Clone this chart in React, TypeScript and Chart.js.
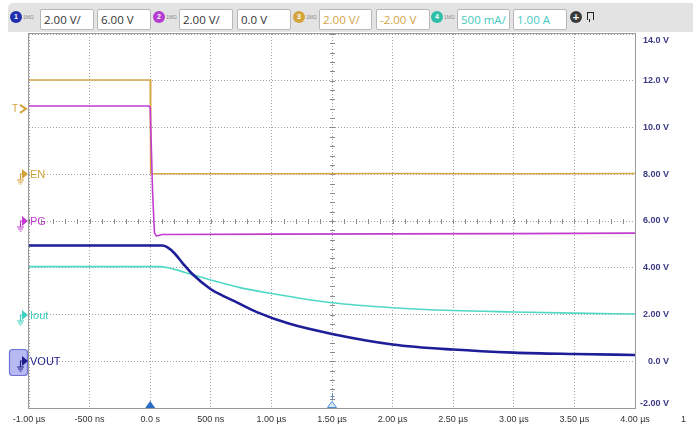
import React, { useEffect, useRef } from 'react';
import { Chart, registerables } from 'chart.js';
Chart.register(...registerables);

// ---- axis ticks ----
const xTickValues = [-1, -0.5, 0, 0.5, 1, 1.5, 2, 2.5, 3, 3.5, 4];
const xTickLabels = ['-1.00 µs', '-500 ns', '0.0 s', '500 ns', '1.00 µs', '1.50 µs', '2.00 µs', '2.50 µs', '3.00 µs', '3.50 µs', '4.00 µs'];
const yTickValues = [-2, 0, 2, 4, 6, 8, 10, 12, 14];
const yTickLabels = ['-2.00 V', '0.0 V', '2.00 V', '4.00 V', '6.00 V', '8.00 V', '10.0 V', '12.0 V', '14.0 V'];

// ---- traces (time in µs, value in screen volts) ----
const enTime = [-1, 0, 0.004, 1.0, 2.0, 3.0, 4.0];
const enVolts = [12.03, 12.03, 8.02, 8.02, 8.03, 8.02, 8.03];

const pgTime = [-1, -0.01, 0.0, 0.02, 0.035, 0.05, 0.1, 1.0, 2.0, 3.0, 4.0];
const pgVolts = [10.92, 10.92, 10.85, 7.2, 5.5, 5.36, 5.42, 5.44, 5.45, 5.46, 5.48];

const voutTime = [-1, 0.1, 0.14, 0.2, 0.27, 0.35, 0.5, 0.6, 0.69, 0.88, 1.15, 1.5, 2.0, 2.5, 3.0, 3.5, 4.0];
const voutVolts = [4.95, 4.95, 4.88, 4.62, 4.18, 3.72, 3.08, 2.8, 2.58, 2.1, 1.6, 1.17, 0.72, 0.5, 0.37, 0.31, 0.27];

const ioutTime = [-1, 0.08, 0.2, 0.35, 0.5, 0.74, 1.0, 1.15, 1.5, 2.0, 2.5, 3.0, 3.5, 4.0];
const ioutVolts = [4.05, 4.05, 3.93, 3.7, 3.48, 3.15, 2.9, 2.77, 2.5, 2.29, 2.17, 2.11, 2.06, 2.02];

// ---- markers ----
const markerLabels = ['EN', 'PG', 'Iout', 'VOUT'];
const markerLevels = [8, 6, 2, 0];
const markerColors = ['#d3a23c', '#c23ccf', '#3fd0c0', '#1c1c8a'];
const triggerLevel = 10.8;
const triggerTimes = [0, 1.5];
const extraLabel = '1';

// ---- toolbar ----
const chNumbers = ['1', '2', '3', '4'];
const chScale = ['2.00 V/', '2.00 V/', '2.00 V/', '500 mA/'];
const chOffset = ['6.00 V', '0.0 V', '-2.00 V', '1.00 A'];
const chColors = ['#2230b0', '#b43cd0', '#d4a43c', '#2fbfa8'];
const chTextColors = ['#333', '#333', '#d0a445', '#45c8c0'];

const pts = (t: number[], v: number[]) => t.map((x, i) => ({ x, y: v[i] }));

const scopePlugin = {
  id: 'scope',
  beforeDatasetsDraw(chart: any) {
    const { ctx, scales } = chart;
    const xs = scales.x, ys = scales.y;
    ctx.save();
    ctx.strokeStyle = '#8a8a8a';
    ctx.lineWidth = 1;
    const cy = Math.round(ys.getPixelForValue(6)) + 0.5;
    for (let t = -1; t <= 4.0001; t += 0.1) {
      const px = Math.round(xs.getPixelForValue(t)) + 0.5;
      ctx.beginPath(); ctx.moveTo(px, cy - 2.5); ctx.lineTo(px, cy + 2.5); ctx.stroke();
    }
    const cx = Math.round(xs.getPixelForValue(1.5)) + 0.5;
    for (let v = -2; v <= 14.0001; v += 0.4) {
      const py = Math.round(ys.getPixelForValue(v)) + 0.5;
      ctx.beginPath(); ctx.moveTo(cx - 2.5, py); ctx.lineTo(cx + 2.5, py); ctx.stroke();
    }
    ctx.restore();
  },
  afterDraw(chart: any) {
    const { ctx, chartArea: a, scales } = chart;
    const xs = scales.x, ys = scales.y;
    ctx.save();
    // border
    ctx.strokeStyle = '#9a9a9a';
    ctx.lineWidth = 1;
    ctx.strokeRect(Math.round(a.left) - 0.5, Math.round(a.top) - 0.5, Math.round(a.right - a.left) + 1, Math.round(a.bottom - a.top) + 1);

    // y labels (right)
    ctx.font = 'bold 9px "Liberation Sans"';
    ctx.fillStyle = '#3b3b86';
    ctx.textAlign = 'right';
    ctx.textBaseline = 'middle';
    yTickValues.forEach((v, i) => {
      let py = ys.getPixelForValue(v);
      py = Math.max(a.top + 7, Math.min(a.bottom - 4, py));
      ctx.fillText(yTickLabels[i], a.right + 34, py);
    });
    ctx.font = '9px "Liberation Sans"';
    ctx.fillStyle = '#333';
    ctx.textAlign = 'left';
    ctx.fillText(extraLabel, a.right + 46, a.bottom + 12);

    // trigger position triangles
    const t0 = xs.getPixelForValue(triggerTimes[0]);
    ctx.fillStyle = '#2a6cc6';
    ctx.beginPath(); ctx.moveTo(t0 - 5, a.bottom); ctx.lineTo(t0 + 5, a.bottom); ctx.lineTo(t0, a.bottom - 7); ctx.closePath(); ctx.fill();
    const t1 = xs.getPixelForValue(triggerTimes[1]);
    ctx.fillStyle = '#dbe8f6';
    ctx.strokeStyle = '#4a8ad0';
    ctx.beginPath(); ctx.moveTo(t1 - 4.5, a.bottom - 0.5); ctx.lineTo(t1 + 4.5, a.bottom - 0.5); ctx.lineTo(t1, a.bottom - 6.5); ctx.closePath(); ctx.fill(); ctx.stroke();
    ctx.strokeStyle = '#6a8ab0';
    ctx.beginPath(); ctx.moveTo(t1 + 0.5, a.bottom - 15); ctx.lineTo(t1 + 0.5, a.bottom - 8); ctx.stroke();
    ctx.beginPath(); ctx.moveTo(t1 - 1.5, a.bottom - 11.5); ctx.lineTo(t1 + 2.5, a.bottom - 11.5); ctx.stroke();

    // trigger level marker
    const ty = ys.getPixelForValue(triggerLevel);
    ctx.fillStyle = '#d3a23c';
    ctx.strokeStyle = '#d3a23c';
    ctx.font = '10px "Liberation Sans"';
    ctx.textAlign = 'left';
    ctx.fillText('T', 12, ty);
    ctx.lineWidth = 2;
    ctx.beginPath(); ctx.moveTo(20, ty - 4); ctx.lineTo(26, ty); ctx.lineTo(20, ty + 4); ctx.stroke();
    ctx.lineWidth = 1;

    // channel markers
    markerLabels.forEach((lab, i) => {
      const py = Math.round(ys.getPixelForValue(markerLevels[i]));
      const col = markerColors[i];
      if (lab === 'VOUT') {
        ctx.fillStyle = '#b7b9f2';
        ctx.strokeStyle = '#6e72d6';
        ctx.beginPath();
        (ctx as any).roundRect(9.5, py - 11.5, 18, 26, 3);
        ctx.fill(); ctx.stroke();
      }
      ctx.strokeStyle = col;
      ctx.fillStyle = col;
      ctx.lineWidth = 1.2;
      // ground symbol
      ctx.beginPath();
      ctx.moveTo(23, py); ctx.lineTo(20.5, py); ctx.lineTo(20.5, py + 6);
      ctx.moveTo(17, py + 6); ctx.lineTo(24, py + 6);
      ctx.moveTo(18, py + 8); ctx.lineTo(23, py + 8);
      ctx.moveTo(19.5, py + 10); ctx.lineTo(21.5, py + 10);
      ctx.stroke();
      ctx.beginPath(); ctx.moveTo(22, py - 5); ctx.lineTo(28, py); ctx.lineTo(22, py + 5); ctx.closePath(); ctx.fill();
      ctx.font = '11px "Liberation Sans"';
      ctx.textAlign = 'left';
      ctx.textBaseline = 'middle';
      ctx.fillText(lab, 30, py + 0.5);
    });
    ctx.restore();
  },
};

function Toolbar() {
  const circleX = [16, 159, 299, 437];
  const box1 = [40, 179, 319, 457];
  const box2 = [97, 237, 376, 513];
  const w1 = [54, 54, 53, 53];
  const w2 = [54, 54, 54, 54];
  const boxStyle = (left: number, width: number, color: string): React.CSSProperties => ({
    position: 'absolute', left, top: 6, width, height: 21, boxSizing: 'border-box',
    background: '#fff', border: '1px solid #b8b8b8', borderRadius: 2,
    font: '11.5px "Open Sans"', color, lineHeight: '19px', paddingLeft: 3, whiteSpace: 'nowrap',
  });
  return (
    <div style={{ position: 'absolute', left: 8, top: 3, width: 685, height: 29, background: '#e3e3e3', borderTopLeftRadius: 5 }}>
      {chNumbers.map((n, i) => (
        <React.Fragment key={n}>
          <div style={{ position: 'absolute', left: circleX[i] - 8 - 6, top: 8, width: 12, height: 12, borderRadius: 6, background: chColors[i], color: '#fff', font: 'bold 7px "Liberation Sans"', textAlign: 'center', lineHeight: '12px' }}>{n}</div>
          <div style={{ position: 'absolute', left: circleX[i] - 8 + 7, top: 11, font: '5px "Liberation Sans"', color: '#888' }}>1MΩ</div>
          <div style={boxStyle(box1[i] - 8, w1[i], chTextColors[i])}>{chScale[i]}</div>
          <div style={boxStyle(box2[i] - 8, w2[i], chTextColors[i])}>{chOffset[i]}</div>
        </React.Fragment>
      ))}
      <div style={{ position: 'absolute', left: 576 - 8 - 6, top: 8, width: 12, height: 12, borderRadius: 6, background: '#3a3a3a', color: '#fff', font: 'bold 11px "Liberation Sans"', textAlign: 'center', lineHeight: '12px' }}>+</div>
      <div style={{ position: 'absolute', left: 587 - 8, top: 9, width: 5, height: 7, border: '1px solid #222', borderBottom: 'none' }} />
      <div style={{ position: 'absolute', left: 589 - 8, top: 16, width: 1, height: 3, background: '#222' }} />
    </div>
  );
}

export default function App() {
  const ref = useRef<HTMLCanvasElement>(null);
  useEffect(() => {
    if (!ref.current) return;
    const common = { pointRadius: 0, fill: false, borderJoinStyle: 'round' as const };
    const chart = new Chart(ref.current, {
      type: 'line',
      data: {
        datasets: [
          { ...common, label: 'VOUT', data: pts(voutTime, voutVolts), borderColor: '#1e1e98', borderWidth: 2.6, cubicInterpolationMode: 'monotone', order: 1 },
          { ...common, label: 'Iout', data: pts(ioutTime, ioutVolts), borderColor: '#4fd8c6', borderWidth: 1.6, cubicInterpolationMode: 'monotone', order: 2 },
          { ...common, label: 'PG', data: pts(pgTime, pgVolts), borderColor: '#c23ccf', borderWidth: 1.6, tension: 0, order: 3 },
          { ...common, label: 'EN', data: pts(enTime, enVolts), borderColor: '#d6a848', borderWidth: 1.6, tension: 0, order: 4 },
        ],
      },
      options: {
        animation: false,
        responsive: false,
        maintainAspectRatio: false,
        events: [],
        layout: { padding: { left: 29, top: 34, right: 0, bottom: 0 } },
        plugins: { legend: { display: false }, tooltip: { enabled: false } },
        scales: {
          x: {
            type: 'linear', min: -1, max: 4,
            afterBuildTicks: (s: any) => { s.ticks = xTickValues.map((v) => ({ value: v })); },
            afterFit: (s: any) => { s.height = 23; },
            ticks: {
              callback: (_v: any, i: number) => xTickLabels[i],
              autoSkip: false, maxRotation: 0, padding: 6,
              font: { family: 'Liberation Sans', size: 9 }, color: '#333',
            },
            grid: { color: '#a2a2a2', lineWidth: 1, drawTicks: false },
            border: { display: false, dash: [1, 2] },
          },
          y: {
            type: 'linear', position: 'right', min: -2, max: 14,
            afterBuildTicks: (s: any) => { s.ticks = yTickValues.map((v) => ({ value: v })); },
            afterFit: (s: any) => { s.width = 58; },
            ticks: { display: false },
            grid: { color: '#a2a2a2', lineWidth: 1, drawTicks: false },
            border: { display: false, dash: [1, 2] },
          },
        },
      },
      plugins: [scopePlugin],
    });
    return () => chart.destroy();
  }, []);
  return (
    <div style={{ position: 'absolute', left: 0, top: 0, width: 693, height: 431, background: '#fff', overflow: 'hidden' }}>
      <canvas ref={ref} width={693} height={431} style={{ position: 'absolute', left: 0, top: 0, width: 693, height: 431 }} />
      <Toolbar />
    </div>
  );
}
